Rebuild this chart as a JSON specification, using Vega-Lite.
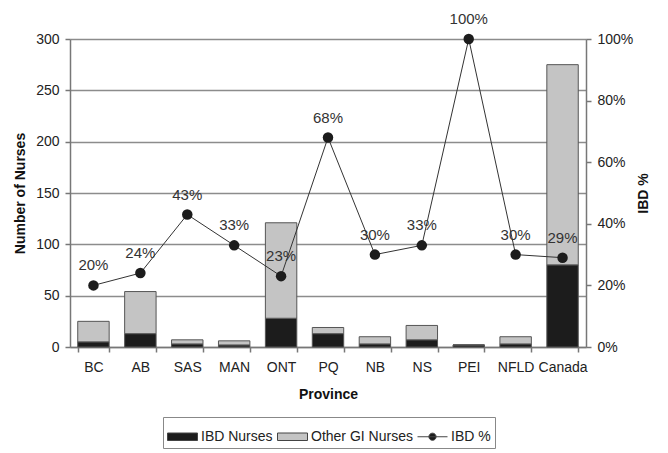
{
  "$schema": "https://vega.github.io/schema/vega-lite/v6.json",
  "width": 516,
  "height": 308,
  "autosize": {"type": "none"},
  "padding": {"left": 70, "top": 39, "right": 82, "bottom": 106},
  "background": "white",
  "datasets": {
    "bars": [
      {"province": "BC", "series": "IBD Nurses", "nurses": 5},
      {"province": "BC", "series": "Other GI Nurses", "nurses": 20},
      {"province": "AB", "series": "IBD Nurses", "nurses": 13},
      {"province": "AB", "series": "Other GI Nurses", "nurses": 41},
      {"province": "SAS", "series": "IBD Nurses", "nurses": 3},
      {"province": "SAS", "series": "Other GI Nurses", "nurses": 4},
      {"province": "MAN", "series": "IBD Nurses", "nurses": 2},
      {"province": "MAN", "series": "Other GI Nurses", "nurses": 4},
      {"province": "ONT", "series": "IBD Nurses", "nurses": 28},
      {"province": "ONT", "series": "Other GI Nurses", "nurses": 93},
      {"province": "PQ", "series": "IBD Nurses", "nurses": 13},
      {"province": "PQ", "series": "Other GI Nurses", "nurses": 6},
      {"province": "NB", "series": "IBD Nurses", "nurses": 3},
      {"province": "NB", "series": "Other GI Nurses", "nurses": 7},
      {"province": "NS", "series": "IBD Nurses", "nurses": 7},
      {"province": "NS", "series": "Other GI Nurses", "nurses": 14},
      {"province": "PEI", "series": "IBD Nurses", "nurses": 2},
      {"province": "PEI", "series": "Other GI Nurses", "nurses": 0},
      {"province": "NFLD", "series": "IBD Nurses", "nurses": 3},
      {"province": "NFLD", "series": "Other GI Nurses", "nurses": 7},
      {"province": "Canada", "series": "IBD Nurses", "nurses": 80},
      {"province": "Canada", "series": "Other GI Nurses", "nurses": 195}
    ],
    "pct": [
      {"province": "BC", "pct": 0.20},
      {"province": "AB", "pct": 0.24},
      {"province": "SAS", "pct": 0.43},
      {"province": "MAN", "pct": 0.33},
      {"province": "ONT", "pct": 0.23},
      {"province": "PQ", "pct": 0.68},
      {"province": "NB", "pct": 0.30},
      {"province": "NS", "pct": 0.33},
      {"province": "PEI", "pct": 1.00},
      {"province": "NFLD", "pct": 0.30},
      {"province": "Canada", "pct": 0.29}
    ]
  },
  "encoding": {
    "x": {
      "field": "province",
      "type": "nominal",
      "sort": ["BC", "AB", "SAS", "MAN", "ONT", "PQ", "NB", "NS", "PEI", "NFLD", "Canada"],
      "scale": {"paddingInner": 0.33, "paddingOuter": 0.165},
      "axis": {
        "title": "Province",
        "labelAngle": 0,
        "tickBand": "extent",
        "labelPadding": 8,
        "titlePadding": 13
      }
    }
  },
  "layer": [
    {
      "data": {"name": "bars"},
      "mark": {"type": "bar", "stroke": "#555555", "strokeWidth": 1},
      "encoding": {
        "y": {
          "field": "nurses",
          "type": "quantitative",
          "stack": "zero",
          "scale": {"domain": [0, 300], "nice": false},
          "axis": {
            "title": "Number of Nurses",
            "values": [0, 50, 100, 150, 200, 250, 300],
            "grid": true,
            "titlePadding": 8,
            "labelPadding": 6
          }
        },
        "color": {
          "field": "series",
          "type": "nominal",
          "scale": {
            "domain": ["IBD Nurses", "Other GI Nurses", "IBD %"],
            "range": ["#1c1c1c", "#c4c4c4", "#1c1c1c"]
          },
          "legend": {
            "title": null,
            "orient": "none",
            "direction": "horizontal",
            "legendX": 93,
            "legendY": 378
          }
        },
        "order": {"field": "series", "sort": "ascending"}
      }
    },
    {
      "data": {"name": "pct"},
      "layer": [
        {
          "mark": {"type": "line", "strokeWidth": 1, "color": "#333333"},
          "encoding": {
            "y": {
              "field": "pct",
              "type": "quantitative",
              "scale": {"domain": [0, 1], "nice": false},
              "axis": {
                "title": "IBD %",
                "orient": "right",
                "format": ".0%",
                "values": [0, 0.2, 0.4, 0.6, 0.8, 1],
                "grid": false,
                "titleAngle": 270,
                "titlePadding": 18,
                "labelPadding": 6
              }
            }
          }
        },
        {
          "mark": {"type": "point", "filled": true, "size": 110, "opacity": 1, "color": "#1c1c1c"},
          "encoding": {
            "y": {"field": "pct", "type": "quantitative"}
          }
        },
        {
          "mark": {"type": "point", "opacity": 0, "size": 1},
          "encoding": {
            "y": {"field": "pct", "type": "quantitative"},
            "shape": {
              "datum": "IBD %",
              "type": "nominal",
              "scale": {
                "domain": ["IBD Nurses", "Other GI Nurses", "IBD %"],
                "range": [
                  "M-1,-0.25L1,-0.25L1,0.25L-1,0.25Z",
                  "M-1,-0.25L1,-0.25L1,0.25L-1,0.25Z",
                  "M-1,0L1,0M-0.24,0A0.24,0.24,0,1,0,0.24,0A0.24,0.24,0,1,0,-0.24,0Z"
                ]
              },
              "legend": {
                "title": null,
                "orient": "none",
                "direction": "horizontal",
                "legendX": 93,
                "legendY": 378
              }
            }
          }
        },
        {
          "mark": {"type": "text", "dy": -20, "fontSize": 15, "color": "#333333", "font": "Liberation Sans"},
          "encoding": {
            "y": {"field": "pct", "type": "quantitative"},
            "text": {"field": "pct", "type": "quantitative", "format": ".0%"}
          }
        }
      ]
    }
  ],
  "resolve": {"scale": {"y": "independent"}},
  "config": {
    "font": "Liberation Sans",
    "view": {"stroke": null},
    "legend": {
      "columnPadding": 2,
      "labelOffset": 3,
      "labelFontSize": 14,
      "labelFont": "Liberation Sans",
      "labelColor": "#222222",
      "labelLimit": 300,
      "symbolSize": 900,
      "symbolStrokeColor": "#444444",
      "symbolStrokeWidth": 1,
      "strokeColor": "#888888",
      "padding": 4
    },
    "axis": {
      "labelFont": "Liberation Sans",
      "labelFontSize": 14,
      "labelColor": "#222222",
      "titleFont": "Liberation Sans",
      "titleFontSize": 14,
      "titleFontWeight": "bold",
      "titleColor": "#111111",
      "domainColor": "#777777",
      "domainWidth": 1.5,
      "tickColor": "#777777",
      "tickWidth": 1.5,
      "tickSize": 5,
      "gridColor": "#8c8c8c",
      "gridWidth": 1.5
    }
  }
}
